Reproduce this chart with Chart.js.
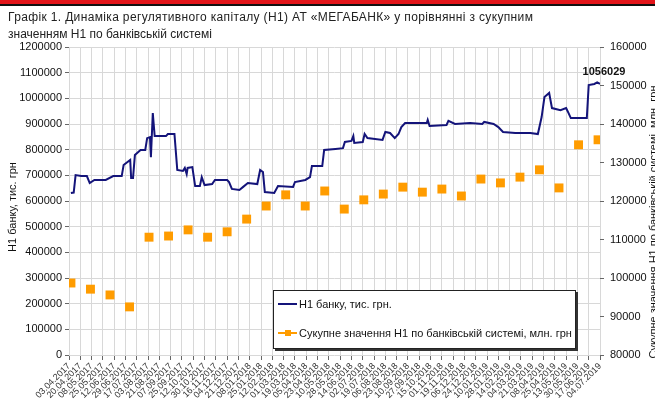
<!DOCTYPE html>
<html>
<head>
<meta charset="utf-8">
<script src="https://cdn.jsdelivr.net/npm/chart.js@4.4.0/dist/chart.umd.min.js"></script>
<style>
  body { margin: 0; background: #fff; font-family: "Liberation Sans", Arial, sans-serif; }
  #wrap { position: relative; width: 655px; height: 406px; overflow: hidden; }
  #chart { position: absolute; left: 0; top: 0; }
  #topbar { position: absolute; left: 0; top: 0; width: 655px; height: 4px; background: #e3151a; border-bottom: 2px solid #111; }
  #title { position: absolute; left: 8px; top: 9px; font-size: 12px; line-height: 17px; color: #222; white-space: nowrap; }
  #title .first { letter-spacing: 0.35px; }
  #legend { position: absolute; left: 273px; top: 290px; width: 301px; height: 57px; border: 1px solid #222;
            box-shadow: 2px 2px 0 #333; background: #fff; font-size: 11px; color: #111; }
  .row { position: absolute; left: 4px; height: 14px; line-height: 14px; white-space: nowrap; }
  .sample { display: inline-block; position: relative; width: 19px; height: 14px; vertical-align: top; margin-right: 2px; }
  .sample i { position: absolute; left: 0; top: 6px; width: 19px; height: 2px; }
  .sample b { position: absolute; left: 7px; top: 4px; width: 6px; height: 6px; background: #ff9c00; }
</style>
</head>
<body>
<div id="wrap">
  <canvas id="chart" width="655" height="406"></canvas>
  <div id="topbar"></div>
  <div id="title"><span class="first">Графік 1. Динаміка регулятивного капіталу (Н1) АТ «МЕГАБАНК» у порівнянні з сукупним</span><br>значенням Н1 по банківській системі</div>
  <div id="legend">
    <div class="row" style="top:6px"><span class="sample"><i style="background:#14147a"></i></span>Н1 банку, тис. грн.</div>
    <div class="row" style="top:35px"><span class="sample"><i style="background:#ff9c00"></i><b></b></span>Сукупне значення Н1 по банківській системі, млн. грн</div>
  </div>
</div>
<script>
/*---------- Data ----------------*/
// x labels, one every 12 business days
const xTickLabels = [
  "03.04.2017", "20.04.2017", "08.05.2017", "25.05.2017", "12.06.2017", "29.06.2017",
  "17.07.2017", "03.08.2017", "21.08.2017", "07.09.2017", "25.09.2017", "12.10.2017",
  "30.10.2017", "16.11.2017", "04.12.2017", "21.12.2017", "08.01.2018", "25.01.2018",
  "12.02.2018", "01.03.2018", "19.03.2018", "05.04.2018", "23.04.2018", "10.05.2018",
  "28.05.2018", "14.06.2018", "02.07.2018", "19.07.2018", "06.08.2018", "23.08.2018",
  "10.09.2018", "27.09.2018", "15.10.2018", "01.11.2018", "19.11.2018", "06.12.2018",
  "24.12.2018", "10.01.2019", "28.01.2019", "14.02.2019", "04.03.2019", "21.03.2019",
  "08.04.2019", "25.04.2019", "13.05.2019", "30.05.2019", "17.06.2019", "04.07.2019"
];

// bank H1 (thousand UAH), business day number -> value
const bankDays = [
  2, 5, 7, 13, 19, 22, 27, 39, 47, 56, 58, 65, 66, 68, 70, 76, 81, 83, 86, 87,
  89, 91, 103, 105, 112, 115, 121, 123, 125, 126, 131, 134, 139, 141, 144, 152, 155, 168, 170, 173,
  181, 185, 190, 200, 203, 206, 208, 218, 222, 238, 240, 251, 256, 258, 269, 271, 283, 291, 293, 300,
  302, 303, 312, 314, 317, 333, 336, 341, 346, 350, 353, 357, 380, 381, 383, 401, 403, 410, 426, 439,
  441, 451, 456, 461, 474, 490, 498, 502, 505, 510, 513, 522, 528, 530, 533, 550, 552, 558, 561, 564
];
const bankValues = [
  631000, 633000, 701000, 697000, 697000, 670000, 682000, 682000, 697000, 697000,
  740000, 760000, 690000, 690000, 779000, 799000, 799000, 845000, 849000, 771000,
  943000, 853000, 853000, 861000, 861000, 721000, 717000, 729000, 705000, 729000,
  732000, 658000, 658000, 693000, 662000, 666000, 682000, 682000, 674000, 647000,
  643000, 655000, 670000, 666000, 721000, 713000, 635000, 631000, 658000, 655000,
  674000, 682000, 693000, 736000, 736000, 799000, 803000, 806000, 830000, 834000,
  853000, 826000, 830000, 861000, 845000, 838000, 869000, 865000, 845000, 861000,
  888000, 904000, 904000, 916000, 892000, 896000, 912000, 900000, 904000, 900000,
  908000, 900000, 888000, 869000, 865000, 865000, 861000, 927000, 1005000, 1021000,
  962000, 954000, 962000, 947000, 923000, 923000, 1052000, 1056000, 1062000, 1056029
];

// banking system H1 (million UAH), monthly
const systemMonths = [
  "04.2017", "05.2017", "06.2017", "07.2017", "08.2017", "09.2017", "10.2017",
  "11.2017", "12.2017", "01.2018", "02.2018", "03.2018", "04.2018", "05.2018",
  "06.2018", "07.2018", "08.2018", "09.2018", "10.2018", "11.2018", "12.2018",
  "01.2019", "02.2019", "03.2019", "04.2019", "05.2019", "06.2019", "07.2019"
];
const systemValues = [
  98700, 97100, 95600, 92500, 110600, 110900, 112500, 110600, 112000, 115300,
  118700, 121600, 118700, 122600, 117900, 120300, 121800, 123600, 122300, 123100,
  121300, 125700, 124700, 126200, 128100, 123400, 134600, 135900
];

const FONT = '"Liberation Sans", Arial, sans-serif';
const GRID = "#d8d8d8";

/*-----------Extra text: axis titles and last value---------------*/
const extraText = {
  id: "extraText",
  afterDraw(chart) {
    const ctx = chart.ctx;
    ctx.save();
    ctx.fillStyle = "#111";
    ctx.textAlign = "center";
    ctx.textBaseline = "middle";
    ctx.font = "11px " + FONT;

    ctx.save();
    ctx.translate(13, 207);
    ctx.rotate(-Math.PI / 2);
    ctx.fillText("Н1 банку, тис. грн", 0, 0);
    ctx.restore();

    ctx.save();
    ctx.translate(654, 222);
    ctx.rotate(-Math.PI / 2);
    ctx.fillText("Сукупне значення Н1 по банківській системі, млн. грн", 0, 0);
    ctx.restore();

    // label of the last bank point
    const meta = chart.getDatasetMeta(0);
    const last = meta.data[meta.data.length - 1];
    ctx.font = "bold 11px " + FONT;
    ctx.fillText(String(bankValues[bankValues.length - 1]), last.x + 4, last.y - 12);
    ctx.restore();
  }
};

/*-----------Chart---------------*/
new Chart(document.getElementById("chart"), {
  type: "line",
  data: {
    datasets: [
      {
        label: "Н1 банку, тис. грн.",
        data: bankDays.map((d, i) => ({ x: d, y: bankValues[i] })),
        borderColor: "#14147a",
        borderWidth: 2,
        pointRadius: 0,
        tension: 0,
        xAxisID: "x",
        yAxisID: "y",
      },
      {
        label: "Сукупне значення Н1 по банківській системі, млн. грн",
        data: systemValues.map((v, i) => ({ x: i, y: v })),
        showLine: false,
        pointStyle: "rect",
        pointRadius: 6.3,
        pointBackgroundColor: "#ff9c00",
        pointBorderColor: "#ff9c00",
        pointBorderWidth: 0,
        xAxisID: "xm",
        yAxisID: "y1",
      },
    ],
  },
  options: {
    responsive: false,
    animation: false,
    layout: { padding: { top: 47, left: 0, right: 0, bottom: 0 } },
    plugins: { legend: { display: false }, tooltip: { enabled: false } },
    scales: {
      x: {
        type: "linear",
        position: "bottom",
        min: 0,
        max: 564,
        afterBuildTicks: (s) => { s.ticks = xTickLabels.map((_, i) => ({ value: i * 12 })); },
        afterFit: (s) => { s.height = 51; },
        ticks: {
          autoSkip: false,
          maxRotation: 45,
          minRotation: 45,
          padding: 1,
          color: "#333",
          font: { family: FONT, size: 9 },
          callback: (v) => xTickLabels[Math.round(v / 12)],
        },
        grid: { color: GRID, tickLength: 5, tickColor: "#666" },
        border: { display: false },
      },
      xm: {
        type: "linear",
        display: false,
        min: -0.1,
        max: 27.1,
      },
      y: {
        position: "left",
        min: 0,
        max: 1200000,
        afterFit: (s) => { s.width = 69; },
        ticks: {
          stepSize: 100000,
          padding: 3,
          color: "#111",
          font: { family: FONT, size: 11 },
          callback: (v) => String(v),
        },
        grid: { color: GRID, tickLength: 4, tickColor: "#666" },
        border: { display: false },
      },
      y1: {
        position: "right",
        min: 80000,
        max: 160000,
        afterFit: (s) => { s.width = 55; },
        ticks: {
          stepSize: 10000,
          padding: 6,
          color: "#111",
          font: { family: FONT, size: 11 },
          callback: (v) => String(v),
        },
        grid: { drawOnChartArea: false, tickLength: 4, tickColor: "#666" },
        border: { display: false },
      },
    },
  },
  plugins: [extraText],
});
</script>
</body>
</html>
